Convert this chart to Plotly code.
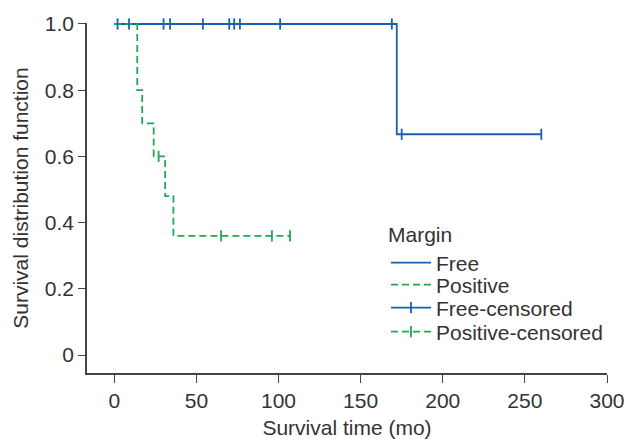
import plotly.graph_objects as go

# Kaplan-Meier step data
free_step_t = [0, 172, 260]
free_step_s = [1.0, 0.667, 0.667]
pos_step_t = [0, 14, 17, 24, 31, 36, 107]
pos_step_s = [1.0, 0.8, 0.7, 0.6, 0.48, 0.36, 0.36]

# censored observations
free_cens_t = [2, 9, 30, 34, 54, 70, 73, 76.5, 101, 169, 175, 260]
free_cens_s = [1.0, 1.0, 1.0, 1.0, 1.0, 1.0, 1.0, 1.0, 1.0, 1.0, 0.667, 0.667]
pos_cens_t = [27, 65, 96, 107]
pos_cens_s = [0.6, 0.36, 0.36, 0.36]

x_ticks = [0, 50, 100, 150, 200, 250, 300]
y_ticks = [0, 0.2, 0.4, 0.6, 0.8, 1.0]
y_tick_labels = ["0", "0.2", "0.4", "0.6", "0.8", "1.0"]

BLUE = "#1a5fae"
GREEN = "#1fa858"
DASH = "7px,4px"
TXT = "#333333"
AX = "#444444"
FS = 21


def isolate(xs, ys):
    gx, gy = [], []
    for a, b in zip(xs, ys):
        gx += [a, None]
        gy += [b, None]
    return gx, gy


fig = go.Figure()
fig.add_trace(go.Scatter(x=free_step_t, y=free_step_s, mode="lines", name="Free",
                         legend="legend",
                         line=dict(color=BLUE, width=1.8, shape="hv")))
fig.add_trace(go.Scatter(x=pos_step_t, y=pos_step_s, mode="lines", name="Positive",
                         legend="legend2",
                         line=dict(color=GREEN, width=1.8, shape="hv", dash=DASH)))
fx, fy = isolate(free_cens_t, free_cens_s)
fig.add_trace(go.Scatter(x=fx, y=fy, mode="lines+markers", name="Free-censored",
                         legend="legend3",
                         connectgaps=False, cliponaxis=False,
                         line=dict(color=BLUE, width=1.8),
                         marker=dict(symbol="line-ns", size=8,
                                     line=dict(color=BLUE, width=1.8))))
px_, py_ = isolate(pos_cens_t, pos_cens_s)
fig.add_trace(go.Scatter(x=px_, y=py_, mode="lines+markers", name="Positive-censored",
                         legend="legend4",
                         connectgaps=False, cliponaxis=False,
                         line=dict(color=GREEN, width=1.8, dash=DASH),
                         marker=dict(symbol="line-ns", size=8,
                                     line=dict(color=GREEN, width=1.8))))

FONT = "Liberation Sans, Arial, sans-serif"
LX = 0.575


def leg(y, title=None):
    d = dict(x=LX, y=y, xanchor="left", yanchor="middle",
             font=dict(size=FS, color=TXT), bgcolor="rgba(0,0,0,0)",
             itemwidth=40, borderwidth=0)
    if title:
        d["title"] = dict(text=title, font=dict(size=FS, color=TXT))
    return d


fig.update_layout(
    width=628, height=439,
    margin=dict(l=87, r=21, t=23, b=66),
    paper_bgcolor="white", plot_bgcolor="white",
    font=dict(family=FONT, size=FS, color=TXT),
    showlegend=True,
    legend=leg(0.354, "Margin"),
    legend2=leg(0.2514),
    legend3=leg(0.1857),
    legend4=leg(0.1171),
    xaxis=dict(range=[-16.6, 300], tickvals=x_ticks, ticks="outside", ticklen=8,
               tickcolor=AX, showline=True, linecolor=AX, linewidth=1.5,
               showgrid=False, zeroline=False, automargin=False,
               title=dict(text="Survival time (mo)", standoff=12,
                          font=dict(size=FS, color=TXT)),
               tickfont=dict(size=FS, color=TXT)),
    yaxis=dict(range=[-0.0542, 1.003], tickvals=y_ticks, ticktext=y_tick_labels,
               ticks="outside", ticklen=7, tickcolor=AX,
               showline=True, linecolor=AX, linewidth=1.5,
               showgrid=False, zeroline=False, automargin=False,
               title=dict(text="Survival distribution function", standoff=10,
                          font=dict(size=FS, color=TXT)),
               tickfont=dict(size=FS, color=TXT)),
)

# remove the browser's default 8px page margin so the figure fills the window
fig.write_html("out.html",
               config={"displayModeBar": False},
               post_script="document.body.style.margin='0';"
                           "document.body.style.overflow='hidden';")
